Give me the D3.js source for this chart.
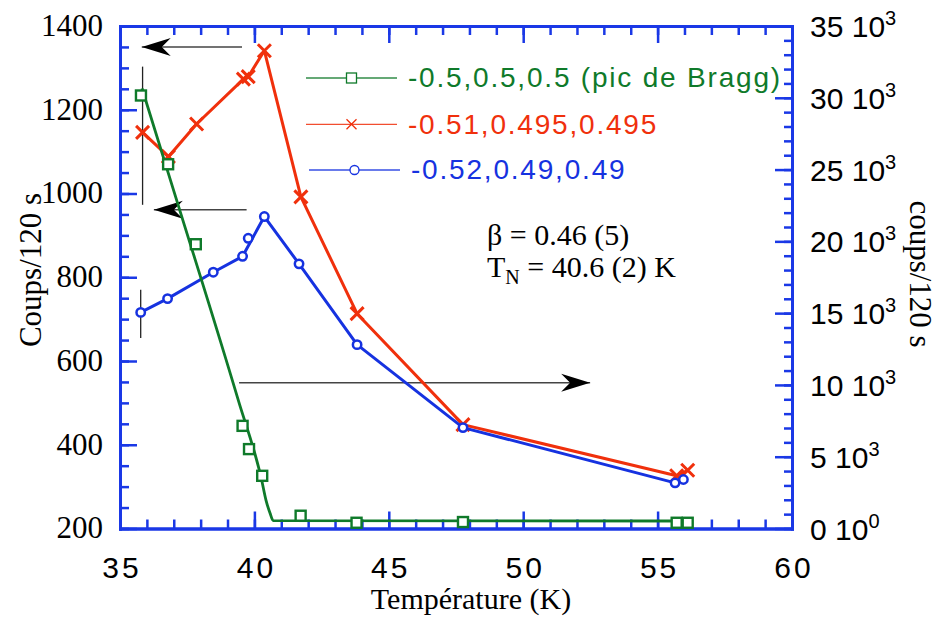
<!DOCTYPE html>
<html>
<head>
<meta charset="utf-8">
<script src="https://cdn.jsdelivr.net/npm/d3@7"></script>
<style>
  html, body { margin: 0; padding: 0; background: #fff; }
  svg { display: block; }
</style>
</head>
<body>
<script>
// ---------- DATA ----------
// Green: (-0.5,0.5,0.5) Bragg peak, right axis (counts/120 s)
const greenT = [35.78, 36.79, 37.82, 39.56, 39.80, 40.29, 41.72, 43.80, 47.76, 55.71, 56.12];
const greenI = [30160, 25370, 19800, 7150, 5530, 3670, 890, 400, 450, 400, 400];
// Green fit curve
const fitT = [35.82, 37.11, 39.40, 40.27, 40.43, 40.58, 40.70, 56.20];
const fitI = [30650, 22860, 8940, 3375, 1983, 1079, 543, 522];
// Red: (-0.51,0.495,0.495), left axis
const redT = [35.84, 36.80, 37.85, 39.59, 39.77, 40.37, 41.73, 43.82, 47.76, 55.71, 56.12];
const redV = [1146, 1088, 1166, 1273, 1279, 1341, 992, 713, 448, 326, 339];
// Blue: (-0.52,0.49,0.49), left axis
const blueT = [35.77, 36.77, 38.47, 39.56, 40.37, 41.66, 43.82, 47.76, 55.65, 55.96];
const blueV = [716, 749, 812, 850, 945, 832, 639, 441, 309, 317];
const blueExtraT = [39.77];
const blueExtraV = [893];
// Error bars (left axis)
const errT = [35.84, 35.77];
const errLow = [973, 655];
const errHigh = [1303, 770];
// Arrows (left-axis coordinates): from -> to
const arrowFromT = [39.54, 39.71, 39.43];
const arrowToT = [35.81, 36.26, 52.49];
const arrowV = [1350, 961, 548];
// Axes ticks
const xMajorTicks = [35, 40, 45, 50, 55, 60];
const xMinorTicks = d3.range(35, 61, 1);
const leftMajorTicks = [200, 400, 600, 800, 1000, 1200, 1400];
const leftMinorTicks = d3.range(200, 1401, 50);
const rightMajorTicks = [0, 5000, 10000, 15000, 20000, 25000, 30000, 35000];
const rightMinorTicks = d3.range(0, 35001, 1000);
const rightLabelMant = ["0", "5", "10", "15", "20", "25", "30", "35"];
const rightLabelExp = ["0", "3", "3", "3", "3", "3", "3", "3"];
// Legend
const legendLabels = ["-0.5,0.5,0.5 (pic de Bragg)", "-0.51,0.495,0.495", "-0.52,0.49,0.49"];

// ---------- STYLE ----------
const AXIS = "#1a38e6";
const GREEN = "#0f7a2a";
const RED = "#f0300c";
const BLUE = "#1632e0";
const SANS = "'Liberation Sans', Arial, Helvetica, sans-serif";
const SERIF = "'Liberation Serif', 'Times New Roman', Times, serif";

const W = 939, H = 617;
const svg = d3.select("body").append("svg").attr("width", W).attr("height", H);

const x = d3.scaleLinear().domain([35, 60]).range([120, 792]);
const yL = d3.scaleLinear().domain([200, 1400]).range([528.5, 26]);
const yR = d3.scaleLinear().domain([0, 35000]).range([528.5, 26]);

function styleAxis(g, width) {
  g.select(".domain").attr("stroke", AXIS).attr("stroke-width", width || 3).attr("stroke-linecap", "square");
  g.selectAll(".tick line").attr("stroke", AXIS).attr("stroke-width", 2.5);
}

// Minor ticks
const gxMinB = svg.append("g").attr("transform", `translate(0,${yL.range()[0]})`)
  .call(d3.axisBottom(x).tickValues(xMinorTicks).tickSizeInner(-9).tickSizeOuter(0).tickFormat(""));
styleAxis(gxMinB);
const gxMinT = svg.append("g").attr("transform", `translate(0,${yL.range()[1]})`)
  .call(d3.axisTop(x).tickValues(xMinorTicks).tickSizeInner(-9).tickSizeOuter(0).tickFormat(""));
styleAxis(gxMinT);
const gyMinL = svg.append("g").attr("transform", `translate(${x.range()[0]},0)`)
  .call(d3.axisLeft(yL).tickValues(leftMinorTicks).tickSizeInner(-9).tickSizeOuter(0).tickFormat(""));
styleAxis(gyMinL);
const gyMinR = svg.append("g").attr("transform", `translate(${x.range()[1]},0)`)
  .call(d3.axisRight(yR).tickValues(rightMinorTicks).tickSizeInner(-8).tickSizeOuter(0).tickFormat(""));
styleAxis(gyMinR);

// Major ticks + labels
const gxB = svg.append("g").attr("transform", `translate(0,${yL.range()[0]})`)
  .call(d3.axisBottom(x).tickValues(xMajorTicks).tickSizeInner(-17).tickSizeOuter(0).tickPadding(28.5).tickFormat(d3.format("d")));
styleAxis(gxB);
gxB.selectAll(".tick text").attr("fill", "#000").attr("font-family", SANS).attr("font-size", 30)
  .attr("letter-spacing", "3px").attr("dx", "1.5px");

const gxT = svg.append("g").attr("transform", `translate(0,${yL.range()[1]})`)
  .call(d3.axisTop(x).tickValues(xMajorTicks).tickSizeInner(-17).tickSizeOuter(0).tickFormat(""));
styleAxis(gxT);

const gyL = svg.append("g").attr("transform", `translate(${x.range()[0]},0)`)
  .call(d3.axisLeft(yL).tickValues(leftMajorTicks).tickSizeInner(-17).tickSizeOuter(0).tickPadding(17).tickFormat(d3.format("d")));
styleAxis(gyL);
gyL.selectAll(".tick text").attr("fill", "#000").attr("font-family", SERIF).attr("font-size", 31).attr("dy", "0.3em");

const gyR = svg.append("g").attr("transform", `translate(${x.range()[1]},0)`)
  .call(d3.axisRight(yR).tickValues(rightMajorTicks).tickSizeInner(-17).tickSizeOuter(0).tickPadding(18).tickFormat(""));
styleAxis(gyR);
gyR.selectAll(".tick text").each(function(d, i) {
  const t = d3.select(this).text(null).attr("fill", "#000").attr("font-family", SANS).attr("font-size", 30).attr("dy", "0.35em");
  t.append("tspan").text(rightLabelMant[i] + " 10");
  t.append("tspan").attr("font-size", 20).attr("dy", -12).text(rightLabelExp[i]);
});

// ---------- AXIS TITLES ----------
svg.append("text").attr("transform", `translate(41,270) rotate(-90)`).attr("text-anchor", "middle")
  .attr("font-family", SERIF).attr("font-size", 31).text("Coups/120 s");
svg.append("text").attr("transform", `translate(910,274) rotate(90)`).attr("text-anchor", "middle")
  .attr("font-family", SERIF).attr("font-size", 31).text("coups/120 s");
svg.append("text").attr("x", 471).attr("y", 609).attr("text-anchor", "middle")
  .attr("font-family", SERIF).attr("font-size", 30).text("Température (K)");

// ---------- ERROR BARS ----------
svg.append("g").selectAll("line").data(errT).join("line")
  .attr("x1", d => x(d)).attr("x2", d => x(d))
  .attr("y1", (d, i) => yL(errLow[i])).attr("y2", (d, i) => yL(errHigh[i]))
  .attr("stroke", "#222").attr("stroke-width", 1.3);

// ---------- ARROWS ----------
const gArr = svg.append("g");
arrowV.forEach((v, i) => {
  const x0 = x(arrowFromT[i]), x1 = x(arrowToT[i]), yy = yL(v);
  gArr.append("line").attr("x1", x0).attr("x2", x1).attr("y1", yy).attr("y2", yy)
    .attr("stroke", "#444").attr("stroke-width", 1.5);
  const dir = x1 < x0 ? 1 : -1; // direction from tip backwards
  gArr.append("path")
    .attr("d", `M${x1},${yy} L${x1 + dir * 29},${yy - 9} L${x1 + dir * 20},${yy} L${x1 + dir * 29},${yy + 9} Z`)
    .attr("fill", "#000");
});

// ---------- SERIES ----------
const lineL = d3.line().x(d => x(d[0])).y(d => yL(d[1]));
const lineR = d3.line().x(d => x(d[0])).y(d => yR(d[1])).curve(d3.curveMonotoneX);

const redPts = redT.map((t, i) => [t, redV[i]]);
const bluePts = blueT.map((t, i) => [t, blueV[i]]);
const greenPts = greenT.map((t, i) => [t, greenI[i]]);
const fitPts = fitT.map((t, i) => [t, fitI[i]]);

// Red
svg.append("path").datum(redPts).attr("d", lineL).attr("fill", "none").attr("stroke", RED)
  .attr("stroke-width", 3).attr("stroke-linejoin", "round");
const cross = (s) => `M${-s},${-s}L${s},${s}M${-s},${s}L${s},${-s}`;
svg.append("g").selectAll("path").data(redPts).join("path")
  .attr("transform", d => `translate(${x(d[0])},${yL(d[1])})`)
  .attr("d", cross(6.5)).attr("stroke", RED).attr("stroke-width", 3).attr("fill", "none");

// Blue
svg.append("path").datum(bluePts).attr("d", lineL).attr("fill", "none").attr("stroke", BLUE)
  .attr("stroke-width", 3).attr("stroke-linejoin", "round");
svg.append("g").selectAll("circle").data(bluePts.concat(blueExtraT.map((t, i) => [t, blueExtraV[i]]))).join("circle")
  .attr("cx", d => x(d[0])).attr("cy", d => yL(d[1])).attr("r", 4.2)
  .attr("fill", "#fff").attr("stroke", BLUE).attr("stroke-width", 2.5);

// Green
svg.append("path").datum(fitPts).attr("d", lineR).attr("fill", "none").attr("stroke", GREEN)
  .attr("stroke-width", 2.8);
svg.append("g").selectAll("rect").data(greenPts).join("rect")
  .attr("x", d => x(d[0]) - 5).attr("y", d => yR(d[1]) - 5).attr("width", 10).attr("height", 10)
  .attr("fill", "#fff").attr("stroke", GREEN).attr("stroke-width", 2.4);

// ---------- LEGEND ----------
const legColors = [GREEN, RED, BLUE];
const legY = [78, 124.3, 170];
const legX0 = [306, 306, 309];
const legG = svg.append("g");
legendLabels.forEach((lab, i) => {
  const xs = legX0[i], yy = legY[i];
  legG.append("line").attr("x1", xs).attr("x2", xs + 91).attr("y1", yy).attr("y2", yy)
    .attr("stroke", legColors[i]).attr("stroke-width", 1.3).attr("opacity", 0.85);
  const cx = xs + 45.5;
  if (i === 0) {
    legG.append("rect").attr("x", cx - 5).attr("y", yy - 5).attr("width", 10).attr("height", 10)
      .attr("fill", "#fff").attr("stroke", GREEN).attr("stroke-width", 1.3);
  } else if (i === 1) {
    legG.append("path").attr("transform", `translate(${cx},${yy})`).attr("d", cross(5))
      .attr("stroke", RED).attr("stroke-width", 1.3);
  } else {
    legG.append("circle").attr("cx", cx).attr("cy", yy).attr("r", 4.5)
      .attr("fill", "#fff").attr("stroke", BLUE).attr("stroke-width", 1.3);
  }
  legG.append("text").attr("x", xs + 102).attr("y", yy + 9.2).attr("fill", legColors[i])
    .attr("font-family", SANS).attr("font-size", 28).attr("letter-spacing", "1.8px").text(lab);
});

// ---------- ANNOTATION ----------
svg.append("text").attr("x", 487).attr("y", 245).attr("font-family", SERIF).attr("font-size", 30)
  .text("β = 0.46 (5)");
const tn = svg.append("text").attr("x", 487).attr("y", 277).attr("font-family", SERIF).attr("font-size", 30);
tn.append("tspan").text("T");
tn.append("tspan").attr("font-size", 20).attr("dy", 7).text("N");
tn.append("tspan").attr("dy", -7).text(" = 40.6 (2) K");
</script>
</body>
</html>
